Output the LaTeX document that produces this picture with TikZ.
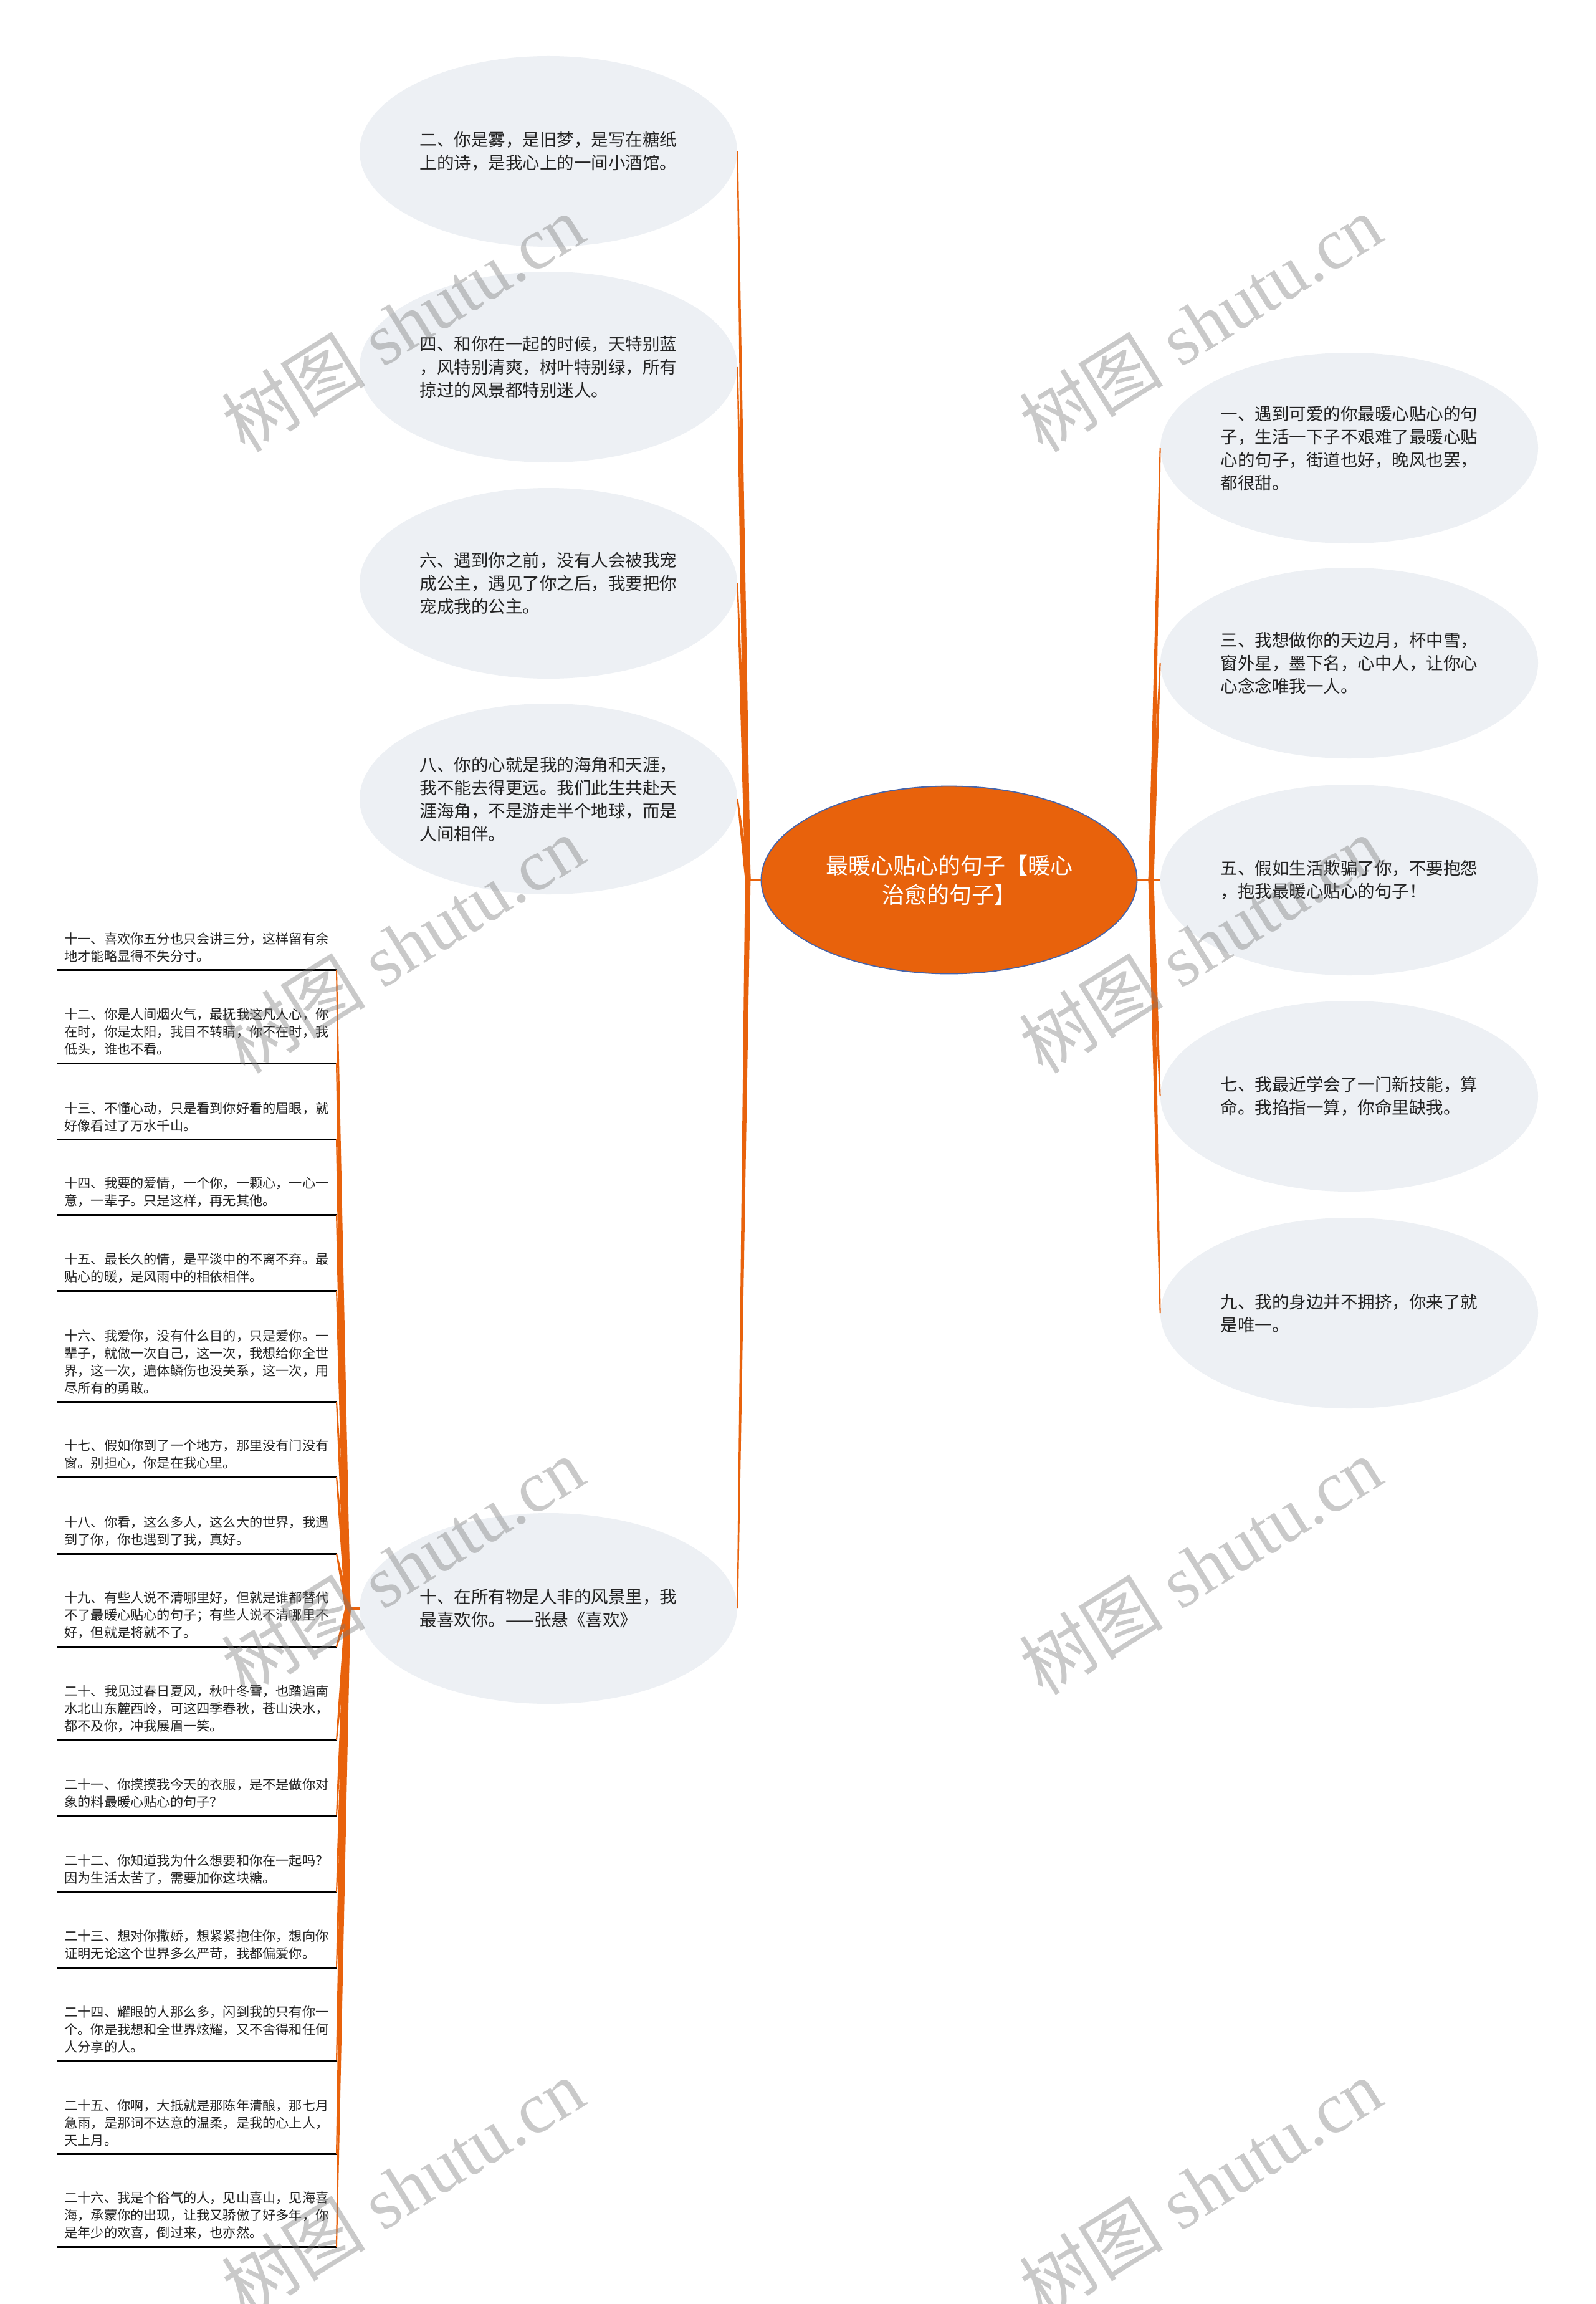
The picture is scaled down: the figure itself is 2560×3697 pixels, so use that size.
\documentclass[tikz,border=0pt]{standalone}
\usepackage{fontspec}
\setmainfont{Liberation Serif}
\newfontfamily\cjk{Noto Sans CJK SC}
\usetikzlibrary{shapes.geometric,calc}
\definecolor{orangeC}{RGB}{232,98,12}
\definecolor{bubble}{RGB}{237,240,244}
\definecolor{edgeblue}{RGB}{70,100,170}
\definecolor{txt}{RGB}{35,35,35}
\definecolor{wmgray}{RGB}{120,120,120}
\newcommand\taper[2]{%
  \fill[orangeC] let \p1=(#1), \p2=(#2), \n1={atan2(\y2-\y1,\x2-\x1)} in
   ($(\p1)+(\n1+90:2.2pt)$) -- ($(\p2)+(\n1+90:0.5pt)$) --
   ($(\p2)+(\n1-90:0.5pt)$) -- ($(\p1)+(\n1-90:2.2pt)$) -- cycle;}
\newcommand\listitem[4]{%
  \node[itemtxt] (t#1) at (103,{#2-22-(#3-1)*14}) {#4};
  \coordinate (e#1) at (540,#2);
  \draw[ulc] (91,#2) -- (e#1);
  \taper{hList}{e#1}}
\begin{document}
\begin{tikzpicture}[x=0.5pt,y=-0.5pt,
  bub/.style={ellipse,fill=bubble,minimum width=303pt,minimum height=153pt,inner sep=0pt,
    align=left,text=txt,font=\cjk\fontsize{13.75pt}{18.5pt}\selectfont},
  centernode/.style={ellipse,fill=orangeC,draw=edgeblue,line width=0.9pt,minimum width=301.5pt,
    minimum height=150.5pt,inner sep=0pt,align=center,text=white,
    font=\cjk\fontsize{18pt}{23.5pt}\selectfont},
  itemtxt/.style={anchor=west,inner sep=0pt,align=left,text=txt,
    font=\cjk\fontsize{10.6pt}{14pt}\selectfont},
  ulc/.style={black,line width=1.5pt},
  stub/.style={orangeC,line width=2pt},
  wm/.style={rotate=32,text=wmgray,text opacity=0.4,inner sep=0pt,
    font=\fontsize{58pt}{60pt}\selectfont}]
\fill[white] (0,0) rectangle (2560,3697);
\useasboundingbox (0,0) rectangle (2560,3697);

% centre
\node[centernode] (c) at (1523,1412) {最暖心贴心的句子【暖心\\治愈的句子】};

% left bubbles
\node[bub] (n2) at (880,243) {二、你是雾，是旧梦，是写在糖纸\\上的诗，是我心上的一间小酒馆。};
\node[bub] (n4) at (880,589) {四、和你在一起的时候，天特别蓝\\，风特别清爽，树叶特别绿，所有\\掠过的风景都特别迷人。};
\node[bub] (n6) at (880,936) {六、遇到你之前，没有人会被我宠\\成公主，遇见了你之后，我要把你\\宠成我的公主。};
\node[bub] (n8) at (880,1282) {八、你的心就是我的海角和天涯，\\我不能去得更远。我们此生共赴天\\涯海角，不是游走半个地球，而是\\人间相伴。};
\node[bub] (n10) at (880,2581) {十、在所有物是人非的风景里，我\\最喜欢你。——张悬《喜欢》};

% right bubbles
\node[bub] (n1) at (2165,719) {一、遇到可爱的你最暖心贴心的句\\子，生活一下子不艰难了最暖心贴\\心的句子，街道也好，晚风也罢，\\都很甜。};
\node[bub] (n3) at (2165,1064) {三、我想做你的天边月，杯中雪，\\窗外星，墨下名，心中人，让你心\\心念念唯我一人。};
\node[bub] (n5) at (2165,1412) {五、假如生活欺骗了你，不要抱怨\\，抱我最暖心贴心的句子！};
\node[bub] (n7) at (2165,1759) {七、我最近学会了一门新技能，算\\命。我掐指一算，你命里缺我。};
\node[bub] (n9) at (2165,2107) {九、我的身边并不拥挤，你来了就\\是唯一。};

% hubs
\coordinate (hL) at (1200,1412);
\coordinate (hR) at (1847,1412);
\coordinate (hList) at (558,2581);
\draw[stub] (c.west) -- (hL);
\draw[stub] (c.east) -- (hR);
\draw[stub] (n10.west) -- (hList);
\taper{hL}{n2.east}
\taper{hL}{n4.east}
\taper{hL}{n6.east}
\taper{hL}{n8.east}
\taper{hL}{n10.east}
\taper{hR}{n1.west}
\taper{hR}{n3.west}
\taper{hR}{n7.west}
\taper{hR}{n9.west}
\draw[stub] (hR) -- (n5.west);

% list
\listitem{11}{1556}{2}{十一、喜欢你五分也只会讲三分，这样留有余\\地才能略显得不失分寸。}
\listitem{12}{1706}{3}{十二、你是人间烟火气，最抚我这凡人心，你\\在时，你是太阳，我目不转睛，你不在时，我\\低头，谁也不看。}
\listitem{13}{1828}{2}{十三、不懂心动，只是看到你好看的眉眼，就\\好像看过了万水千山。}
\listitem{14}{1949}{2}{十四、我要的爱情，一个你，一颗心，一心一\\意，一辈子。只是这样，再无其他。}
\listitem{15}{2071}{2}{十五、最长久的情，是平淡中的不离不弃。最\\贴心的暖，是风雨中的相依相伴。}
\listitem{16}{2249}{4}{十六、我爱你，没有什么目的，只是爱你。一\\辈子，就做一次自己，这一次，我想给你全世\\界，这一次，遍体鳞伤也没关系，这一次，用\\尽所有的勇敢。}
\listitem{17}{2370}{2}{十七、假如你到了一个地方，那里没有门没有\\窗。别担心，你是在我心里。}
\listitem{18}{2493}{2}{十八、你看，这么多人，这么大的世界，我遇\\到了你，你也遇到了我，真好。}
\listitem{19}{2642}{3}{十九、有些人说不清哪里好，但就是谁都替代\\不了最暖心贴心的句子；有些人说不清哪里不\\好，但就是将就不了。}
\listitem{20}{2792}{3}{二十、我见过春日夏风，秋叶冬雪，也踏遍南\\水北山东麓西岭，可这四季春秋，苍山泱水，\\都不及你，冲我展眉一笑。}
\listitem{21}{2913}{2}{二十一、你摸摸我今天的衣服，是不是做你对\\象的料最暖心贴心的句子？}
\listitem{22}{3036}{2}{二十二、你知道我为什么想要和你在一起吗？\\因为生活太苦了，需要加你这块糖。}
\listitem{23}{3157}{2}{二十三、想对你撒娇，想紧紧抱住你，想向你\\证明无论这个世界多么严苛，我都偏爱你。}
\listitem{24}{3306}{3}{二十四、耀眼的人那么多，闪到我的只有你一\\个。你是我想和全世界炫耀，又不舍得和任何\\人分享的人。}
\listitem{25}{3456}{3}{二十五、你啊，大抵就是那陈年清酿，那七月\\急雨，是那词不达意的温柔，是我的心上人，\\天上月。}
\listitem{26}{3605}{3}{二十六、我是个俗气的人，见山喜山，见海喜\\海，承蒙你的出现，让我又骄傲了好多年，你\\是年少的欢喜，倒过来，也亦然。}

% watermarks
\node[wm] (w1) at (646,519) {{\cjk 树图} shutu.cn};
\node[wm] (w2) at (1926,519) {{\cjk 树图} shutu.cn};
\node[wm] (w3) at (646,1516) {{\cjk 树图} shutu.cn};
\node[wm] (w4) at (1926,1516) {{\cjk 树图} shutu.cn};
\node[wm] (w5) at (646,2513) {{\cjk 树图} shutu.cn};
\node[wm] (w6) at (1926,2513) {{\cjk 树图} shutu.cn};
\node[wm] (w7) at (646,3510) {{\cjk 树图} shutu.cn};
\node[wm] (w8) at (1926,3510) {{\cjk 树图} shutu.cn};
\end{tikzpicture}
\end{document}
